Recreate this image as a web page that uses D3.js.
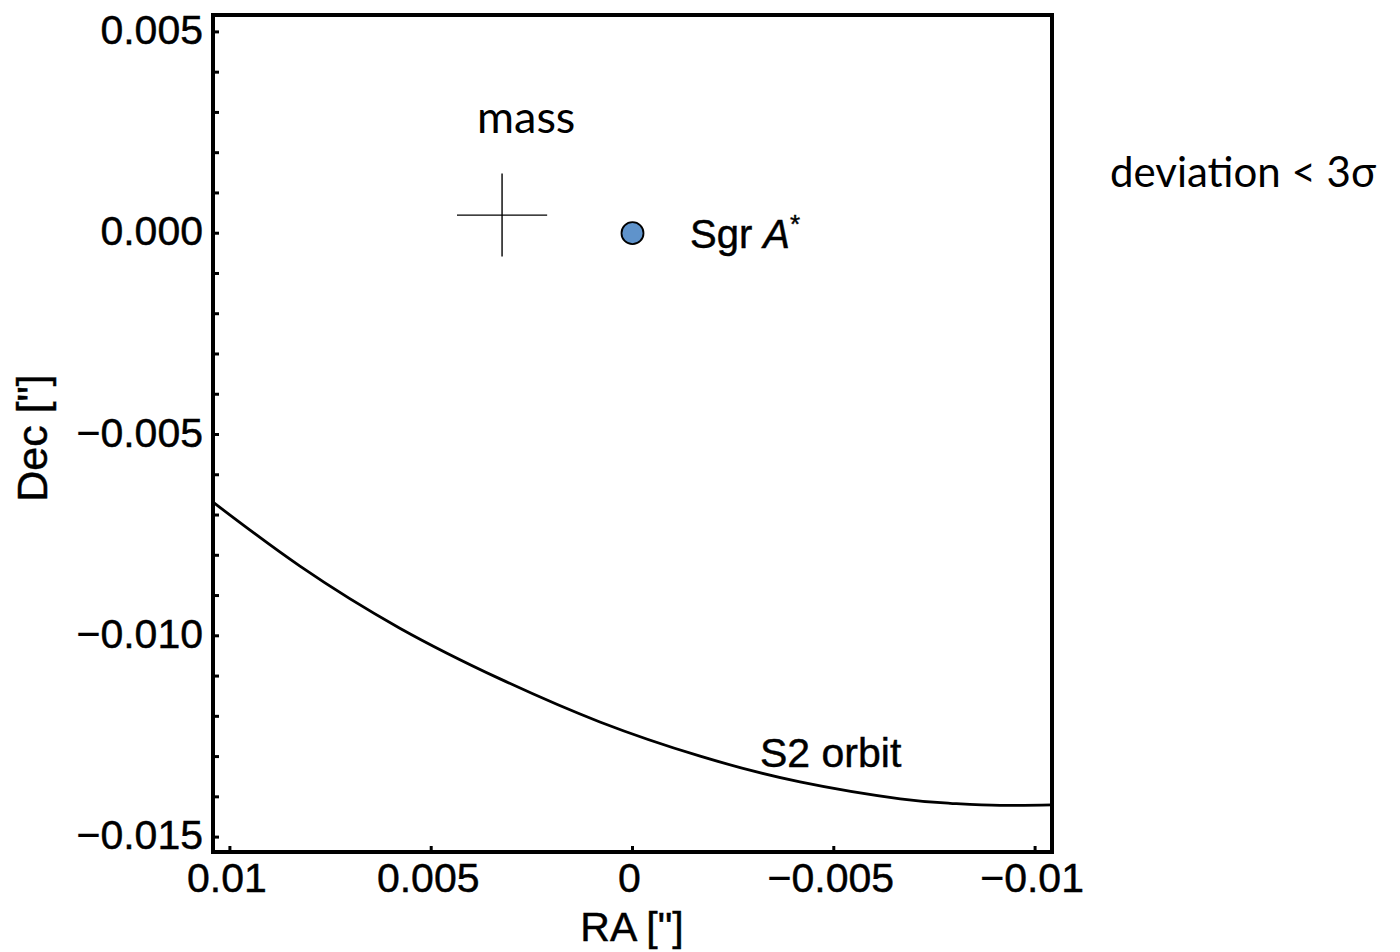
<!DOCTYPE html>
<html lang="en">
<head>
    <meta charset="UTF-8">
    <script src="https://cdn.jsdelivr.net/npm/d3@7/dist/d3.min.js"></script>
    <title>S2 orbit</title>
    <style>
        body {
            margin: 0;
            background: #fff;
        }
        svg text {
            fill: #000;
        }
        .helv {
            font-family: "Liberation Sans", Arial, sans-serif;
            stroke: #000;
            stroke-width: 0.45px;
        }
        .calib {
            font-family: Lato, "Open Sans", sans-serif;
        }
    </style>
</head>
<body>
    <svg id="chart"></svg>

<script>
    // S2 orbit (RA, Dec in arcsec)
    const orbitRA  = [0.01042, 0.00826, 0.00578, 0.00329, 0.00081, -0.00168, -0.00416, -0.00665, -0.00789, -0.00913, -0.01042];
    const orbitDec = [-0.00668, -0.00827, -0.00981, -0.01107, -0.01214, -0.01299, -0.01363, -0.01405, -0.01416, -0.01421, -0.01420];

    // mass position with error bars
    const massRA = 0.00324, massDec = 0.00045;
    const massErrRA = 0.00112, massErrDec = 0.00103;

    // Sgr A* position
    const sgrRA = 0, sgrDec = 0;

    const xTicks = [0.01, 0.005, 0, -0.005, -0.01];
    const xTickLabels = ["0.01", "0.005", "0", "\u22120.005", "\u22120.01"];
    const yTicks = [0.005, 0, -0.005, -0.010, -0.015];
    const yTickLabels = ["0.005", "0.000", "\u22120.005", "\u22120.010", "\u22120.015"];
    const yMinor = d3.range(-15, 6).map(d => d / 1000);

    const width = 1400, height = 952;
    const plot = {left: 213, right: 1052, top: 15, bottom: 852};

    const x = d3.scaleLinear().domain([0.01042, -0.01042]).range([plot.left, plot.right]);
    const y = d3.scaleLinear().domain([0.00542, -0.01537]).range([plot.top, plot.bottom]);

    const svg = d3.select("#chart")
        .attr("width", width)
        .attr("height", height);

    // orbit curve
    const orbit = orbitRA.map((r, i) => [r, orbitDec[i]]);
    svg.append("path")
        .datum(orbit)
        .attr("fill", "none")
        .attr("stroke", "#000")
        .attr("stroke-width", 2.8)
        .attr("d", d3.line().x(d => x(d[0])).y(d => y(d[1])).curve(d3.curveNatural));

    // mass cross
    const cross = svg.append("g").attr("stroke", "#000").attr("stroke-width", 1.4);
    cross.append("line")
        .attr("x1", x(massRA + massErrRA)).attr("x2", x(massRA - massErrRA))
        .attr("y1", y(massDec)).attr("y2", y(massDec));
    cross.append("line")
        .attr("x1", x(massRA)).attr("x2", x(massRA))
        .attr("y1", y(massDec + massErrDec)).attr("y2", y(massDec - massErrDec));

    // Sgr A* dot
    svg.append("circle")
        .attr("cx", x(sgrRA))
        .attr("cy", y(sgrDec))
        .attr("r", 11)
        .attr("fill", "#5f93cb")
        .attr("stroke", "#000")
        .attr("stroke-width", 1.8);

    // frame
    svg.append("rect")
        .attr("x", plot.left)
        .attr("y", plot.top)
        .attr("width", plot.right - plot.left)
        .attr("height", plot.bottom - plot.top)
        .attr("fill", "none")
        .attr("stroke", "#000")
        .attr("stroke-width", 4);

    // ticks
    svg.append("g").selectAll("line")
        .data(yMinor)
        .join("line")
        .attr("x1", plot.left)
        .attr("x2", plot.left + 6)
        .attr("y1", d => y(d))
        .attr("y2", d => y(d))
        .attr("stroke", "#000")
        .attr("stroke-width", 3);

    svg.append("g").selectAll("line")
        .data(xTicks)
        .join("line")
        .attr("x1", d => x(d))
        .attr("x2", d => x(d))
        .attr("y1", plot.bottom)
        .attr("y2", plot.bottom - 6)
        .attr("stroke", "#000")
        .attr("stroke-width", 3);

    // tick labels
    svg.append("g").attr("class", "helv").attr("font-size", 41)
        .selectAll("text")
        .data(xTicks)
        .join("text")
        .attr("x", d => x(d) - 3)
        .attr("y", 892)
        .attr("text-anchor", "middle")
        .text((d, i) => xTickLabels[i]);

    svg.append("g").attr("class", "helv").attr("font-size", 41)
        .selectAll("text")
        .data(yTicks)
        .join("text")
        .attr("x", 203)
        .attr("y", d => y(d) + 12)
        .attr("text-anchor", "end")
        .text((d, i) => yTickLabels[i]);

    // axis titles
    svg.append("text")
        .attr("class", "helv")
        .attr("font-size", 41)
        .attr("x", 632)
        .attr("y", 941)
        .attr("text-anchor", "middle")
        .text("RA [\"]");

    svg.append("text")
        .attr("class", "helv")
        .attr("font-size", 43)
        .attr("transform", "translate(47,438) rotate(-90)")
        .attr("text-anchor", "middle")
        .text("Dec [\"]");

    // annotations
    const sgr = svg.append("text")
        .attr("class", "helv")
        .attr("font-size", 40)
        .attr("x", 690)
        .attr("y", 248);
    sgr.append("tspan").text("Sgr ");
    sgr.append("tspan").attr("font-style", "italic").text("A");
    sgr.append("tspan").attr("font-size", 26).attr("dy", -15).text("*");

    svg.append("text")
        .attr("class", "helv")
        .attr("font-size", 41)
        .attr("x", 760)
        .attr("y", 767)
        .text("S2 orbit");

    svg.append("text")
        .attr("class", "calib")
        .attr("font-size", 45)
        .attr("x", 477)
        .attr("y", 133)
        .text("mass");

    svg.append("text")
        .attr("class", "calib")
        .attr("font-size", 42)
        .attr("x", 1110)
        .attr("y", 187)
        .text("deviation < 3\u03c3");
</script>
</body>
</html>
